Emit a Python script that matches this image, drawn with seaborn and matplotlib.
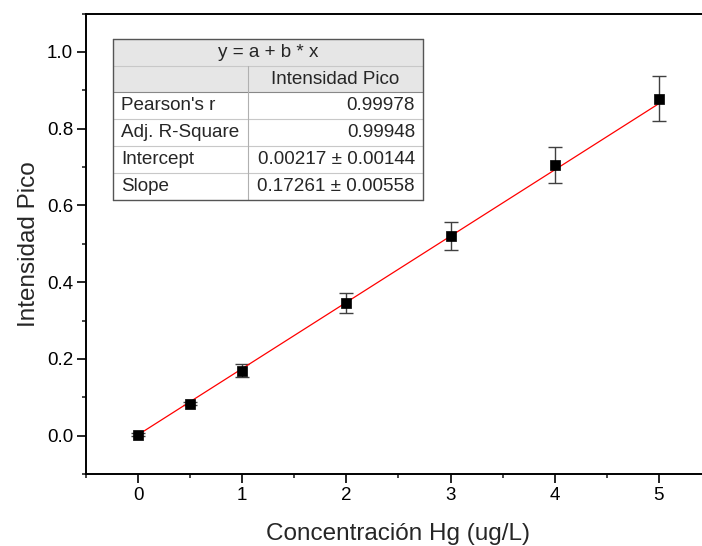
import matplotlib
matplotlib.use("Agg")
import matplotlib.pyplot as plt
import seaborn as sns
import pandas as pd
from matplotlib.ticker import MultipleLocator
from matplotlib.patches import Rectangle
from matplotlib.lines import Line2D

# ---- data ----
conc = [0, 0.5, 1, 2, 3, 4, 5]
intensity = [0.0026, 0.0828, 0.1697, 0.3465, 0.5200, 0.7060, 0.8780]
err = [0.003, 0.004, 0.016, 0.026, 0.037, 0.047, 0.058]
fit_x = [0, 5]
fit_y = [0.00217, 0.86522]

table_title = "y = a + b * x"
table_col = "Intensidad Pico"
table_rows = ["Pearson's r", "Adj. R-Square", "Intercept", "Slope"]
table_vals = ["0.99978", "0.99948", "0.00217 \u00b1 0.00144", "0.17261 \u00b1 0.00558"]

xticks = [0, 1, 2, 3, 4, 5]
yticks = [0.0, 0.2, 0.4, 0.6, 0.8, 1.0]
xlabel = "Concentración Hg (ug/L)"
ylabel = "Intensidad Pico"

# ---- style ----
sns.set_style("ticks")
plt.rcParams['font.family'] = ['Liberation Sans', 'DejaVu Sans']

W, H = 702, 546
fig = plt.figure(figsize=(W / 100, H / 100), dpi=100)

def px(x, y):
    return x / W, 1 - y / H

ax_l, ax_r, ax_t, ax_b = 86, 711, 13.5, 474
ax_w, ax_h = ax_r - ax_l, ax_b - ax_t
ax = fig.add_axes([ax_l / W, 1 - ax_b / H, ax_w / W, ax_h / H])

df = pd.DataFrame({"x": conc, "y": intensity, "e": err})
fit_df = pd.DataFrame({"x": fit_x, "y": fit_y})

ax.errorbar(df["x"], df["y"], yerr=df["e"], fmt="none", ecolor="#404040",
            elinewidth=1.0, capsize=5, capthick=1.0, zorder=2)
sns.lineplot(data=fit_df, x="x", y="y", ax=ax, color="#ff0000", lw=0.9, zorder=3)
sns.scatterplot(data=df, x="x", y="y", ax=ax, marker="s", s=50, color="black",
                edgecolor="black", linewidth=0.5, zorder=4)

ax.set_xlim(-0.5, 5.5)
ax.set_ylim(-0.1, 1.1)
ax.set_xticks(xticks)
ax.set_yticks(yticks)
ax.set_yticklabels([f"{v:.1f}" for v in yticks])
ax.xaxis.set_minor_locator(MultipleLocator(0.5))
ax.yaxis.set_minor_locator(MultipleLocator(0.1))
ax.tick_params(which="major", direction="out", length=6.7, width=1.2, labelsize=13.5,
               colors="black", pad=3)
ax.tick_params(axis="y", which="major", pad=2.5)
ax.tick_params(which="minor", direction="out", length=3.2, width=1.2)
ax.tick_params(top=False, right=False, which="both")
for s in ax.spines.values():
    s.set_linewidth(1.4)
    s.set_color("black")
ax.set_xlabel(xlabel, fontsize=17.5)
ax.set_ylabel(ylabel, fontsize=17.5)
# label placement (axes fraction)
ax.xaxis.set_label_coords((398 - ax_l) / ax_w, (ax_b - 540) / ax_h)
ax.xaxis.label.set_verticalalignment("baseline")
ax.yaxis.set_label_coords((29 - ax_l) / ax_w, (ax_b - 244) / ax_h)
ax.yaxis.label.set_verticalalignment("center")

# ---- table ----
t_l, t_r = 113, 423
col_split = 248
row_edges = [39, 66, 92, 119, 146, 173, 200]
gray = "#e6e6e6"

def rect(x0, y0, x1, y1, fc):
    a, b = px(x0, y1)
    c, d = px(x1, y0)
    fig.add_artist(Rectangle((a, b), c - a, d - b, transform=fig.transFigure,
                             facecolor=fc, edgecolor="none", zorder=10))

def hline(y, x0, x1, color, lw=0.8):
    a, b = px(x0, y)
    c, _ = px(x1, y)
    fig.add_artist(Line2D([a, c], [b, b], transform=fig.transFigure, color=color, lw=lw, zorder=11))

def vline(x, y0, y1, color, lw=0.8):
    a, b = px(x, y0)
    _, d = px(x, y1)
    fig.add_artist(Line2D([a, a], [b, d], transform=fig.transFigure, color=color, lw=lw, zorder=11))

t_t, t_b = row_edges[0], row_edges[-1]
rect(t_l, t_t, t_r, t_b, "white")
rect(t_l, t_t, t_r, row_edges[2], gray)

for i, y in enumerate(row_edges[1:-1], start=1):
    hline(y, t_l, t_r, "#888888" if i == 2 else "#c8c8c8", lw=0.8)
vline(col_split, row_edges[1], t_b, "#b0b0b0", lw=0.8)
hline(t_t, t_l, t_r, "#555555", 1.0)
hline(t_b, t_l, t_r, "#555555", 1.0)
vline(t_l, t_t, t_b, "#555555", 1.0)
vline(t_r, t_t, t_b, "#555555", 1.0)

fs = 13.6
def mid(i):
    return (row_edges[i] + row_edges[i + 1]) / 2

cx, cy = px((t_l + t_r) / 2, mid(0))
fig.text(cx, cy, table_title, ha="center", va="center", fontsize=fs, zorder=12)
cx, cy = px((col_split + t_r) / 2, mid(1))
fig.text(cx, cy, table_col, ha="center", va="center", fontsize=fs, zorder=12)
for i, (lab, val) in enumerate(zip(table_rows, table_vals)):
    x0, y0 = px(t_l + 8, mid(2 + i))
    fig.text(x0, y0, lab, ha="left", va="center", fontsize=fs, zorder=12)
    x1, y1 = px(t_r - 8, mid(2 + i))
    fig.text(x1, y1, val, ha="right", va="center", fontsize=fs, zorder=12)

fig.savefig("out.png", dpi=100)
